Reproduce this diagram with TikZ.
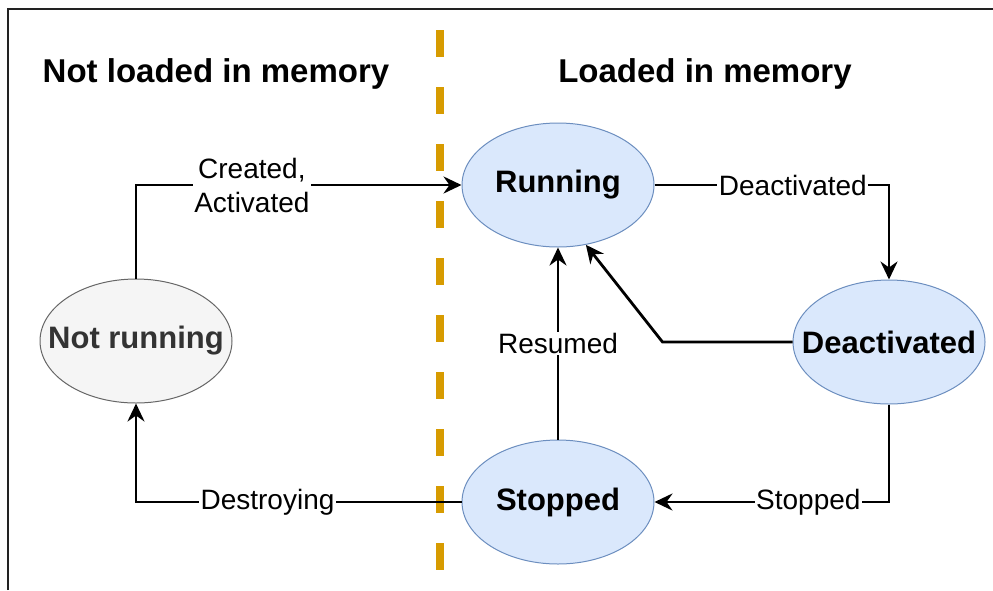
\documentclass[tikz,border=0pt]{standalone}
\usepackage{fontspec}
\setmainfont{Liberation Sans}
\usetikzlibrary{shapes.geometric,arrows.meta}
\definecolor{stfill}{HTML}{DAE8FC}
\definecolor{stline}{HTML}{6C8EBF}
\definecolor{nrfill}{HTML}{F5F5F5}
\definecolor{nrline}{HTML}{666666}
\definecolor{nrtext}{HTML}{333333}
\definecolor{divider}{HTML}{D79B00}
\definecolor{framegray}{HTML}{222222}

\begin{document}
\begin{tikzpicture}[x=1pt,y=-1pt,
    state/.style={ellipse,draw=stline,fill=stfill,line width=1pt,minimum width=192pt,minimum height=124pt,inner xsep=-50pt,inner ysep=0pt,font=\fontsize{31}{36}\selectfont\bfseries},
    idle/.style={state,draw=nrline,fill=nrfill,text=nrtext},
    flow/.style={line width=2.8pt,-{Stealth[length=18pt,width=17pt,inset=6pt]}},
    edgelbl/.style={fill=white,inner sep=1.5pt,font=\fontsize{28}{34}\selectfont,align=center},
    heading/.style={anchor=base,font=\fontsize{33}{40}\selectfont\bfseries}]
	\useasboundingbox (0,0) rectangle (993,590);
	\draw[line width=2pt,color=framegray] (8,590) -- (8,9) -- (993,9);
	\draw[line width=8pt,color=divider,dash pattern=on 27pt off 30pt] (440,30) -- (440,576);
	\node[heading] (lefthead) at (216,82) {Not loaded in memory};
	\node[heading] (righthead) at (705,82) {Loaded in memory};
	\node[idle] (notrunning) at (136,341) {Not running};
	\node[state] (running) at (558,185) {Running};
	\node[state] (deactivated) at (889,342) {Deactivated};
	\node[state] (stopped) at (558,502) {Stopped};
	\draw[flow] (notrunning.north) |- node[edgelbl,pos=.678] {Created,\\Activated} (running.west);
	\draw[flow] (running.east) -| node[edgelbl,pos=.295] {Deactivated} (deactivated.north);
	\draw[flow] (deactivated.west) -- ++(-130,0) -- (running.-65);
	\draw[flow] (deactivated.south) |- node[edgelbl,pos=.672] {Stopped} (stopped.east);
	\draw[flow] (stopped.north) -- node[edgelbl] {Resumed} (running.south);
	\draw[flow] (stopped.west) -| node[edgelbl,pos=.298] {Destroying} (notrunning.south);
\end{tikzpicture}
\end{document}
